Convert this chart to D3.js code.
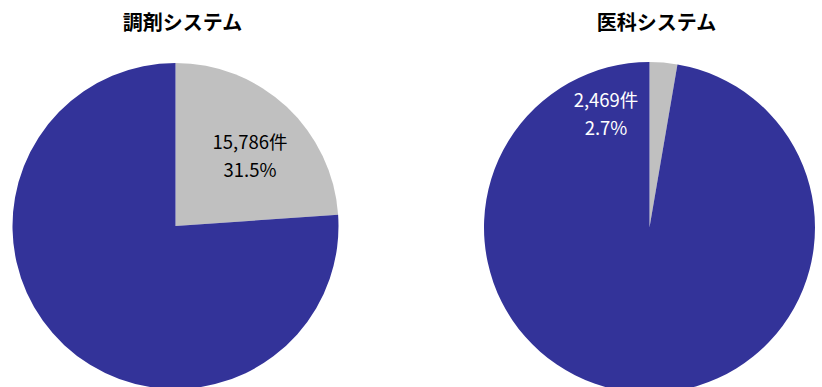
<!DOCTYPE html>
<html>
<head>
<meta charset="utf-8">
<script src="https://cdn.jsdelivr.net/npm/d3@7"></script>
<style>
  body { margin: 0; background: #fff; }
  svg { display: block; }
</style>
</head>
<body>
<svg id="chart" width="822" height="387"></svg>
<script>
// data (slice order: gray first, clockwise from 12 o'clock)
const titles = ['調剤システム', '医科システム'];
const sliceNames = ['対象', 'その他'];
const chozaiValues = [23.9, 76.1];
const ikaValues = [2.7, 97.3];
const countLabels = ['15,786件', '2,469件'];
const pctLabels = ['31.5%', '2.7%'];

const colors = d3.scaleOrdinal()
    .domain(sliceNames)
    .range(['#c0c0c0', '#333399']);
const labelColors = ['#000', '#fff'];

const svg = d3.select('#chart');

const pies = [
    { title: titles[0], values: chozaiValues, cx: 175.5, cy: 226, r: 163, lx: 250, ly: 149 },
    { title: titles[1], values: ikaValues, cx: 649.5, cy: 227.5, r: 165.5, lx: 606, ly: 107 }
];

const pie = d3.pie().sort(null).value(d => d);

pies.forEach(function (p, i) {
    const g = svg.append('g')
        .attr('transform', `translate(${p.cx},${p.cy})`);

    const arc = d3.arc().innerRadius(0).outerRadius(p.r);

    g.selectAll('path')
        .data(pie(p.values))
        .enter()
        .append('path')
        .attr('d', arc)
        .attr('fill', (d, j) => colors(sliceNames[j]));

    svg.append('text')
        .attr('x', p.cx + 7)
        .attr('y', 30)
        .attr('text-anchor', 'middle')
        .style('font-family', '"Noto Sans CJK JP", sans-serif')
        .style('font-weight', 'bold')
        .style('font-size', '20px')
        .text(p.title);

    const lbl = svg.append('text')
        .attr('text-anchor', 'middle')
        .attr('fill', labelColors[i])
        .style('font-family', '"Noto Sans CJK JP", sans-serif')
        .style('font-size', '18.5px');

    lbl.append('tspan')
        .attr('x', p.lx)
        .attr('y', p.ly)
        .text(countLabels[i]);

    lbl.append('tspan')
        .attr('x', p.lx)
        .attr('y', p.ly + 28)
        .text(pctLabels[i]);
});
</script>
</body>
</html>
